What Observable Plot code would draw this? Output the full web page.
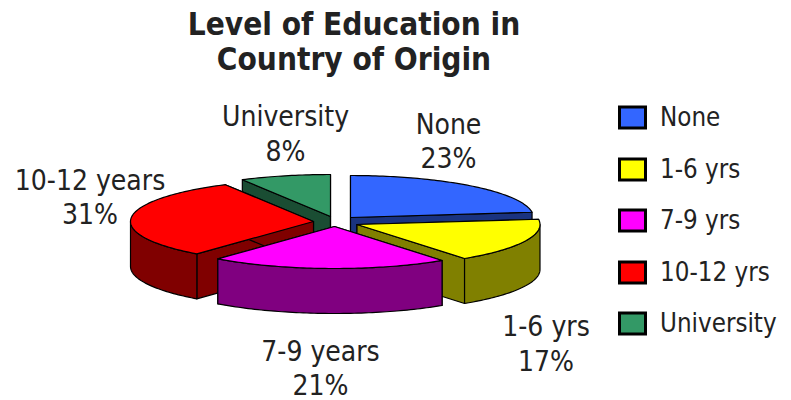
<!DOCTYPE html>
<html>
<head>
<meta charset="utf-8">
<style>html,body{margin:0;padding:0;background:#fff}svg{display:block}</style>
<script src="https://cdn.jsdelivr.net/npm/d3@7"></script>
<script src="https://cdn.jsdelivr.net/npm/@observablehq/plot@0.6"></script>
</head>
<body>
<div id="chart"></div>
<script>
const titleLines = ["Level of Education in", "Country of Origin"];
const categories = ["None", "1-6 yrs", "7-9 yrs", "10-12 yrs", "University"];
const sliceNames = ["None", "1-6 yrs", "7-9 years", "10-12 years", "University"];
const shares = [23, 17, 21, 31, 8];
const topColors = ["#3366FF", "#FFFF00", "#FF00FF", "#FF0000", "#339966"];
const wallColors = ["#1A3380", "#808000", "#800080", "#800000", "#1A4D33"];

// layout of the tilted pie
const apexX = [350, 356.5, 334, 313, 330];
const apexY = [217, 224, 226, 221, 216];
const rx = 183, ry = 42, depth = 45;
const paintOrder = [4, 0, 3, 1, 2];
const labelX = [448, 545.5, 320, 89.5, 285];
const labelY = [139.5, 342, 366.5, 195.5, 132];
const legendY = [117.5, 169.5, 220.5, 272.5, 323.5];

let cum = 0;
const slices = shares.map((s, i) => {
  const a0 = cum / 100 * 2 * Math.PI;
  cum += s;
  return {i, a0, a1: cum / 100 * 2 * Math.PI};
});
const pt = (s, a, dz = 0) => [apexX[s.i] + rx * Math.sin(a), apexY[s.i] - ry * Math.cos(a) + dz];
const arc = (s, from, to, dz = 0) => {
  const n = Math.max(2, Math.ceil(Math.abs(to - from) / 0.02));
  return d3.range(n + 1).map(k => pt(s, from + (to - from) * k / n, dz));
};
const pieces = [];
const addPiece = (id, color, pts) => {
  [...pts, pts[0]].forEach(([x, y]) => pieces.push({id, color, x, y}));
};
for (const idx of paintOrder) {
  const s = slices[idx];
  const ax = apexX[idx], ay = apexY[idx];
  const wall = wallColors[idx];
  // radial walls
  for (const [k, a] of [[0, s.a0], [1, s.a1]]) {
    const p = pt(s, a), q = pt(s, a, depth);
    addPiece(`r${idx}${k}`, wall, [[ax, ay], p, q, [ax, ay + depth]]);
  }
  // outer front wall, only where the rim faces the viewer
  const from = Math.max(s.a0, Math.PI / 2), to = Math.min(s.a1, 3 * Math.PI / 2);
  if (to > from) {
    addPiece(`o${idx}`, wall, [...arc(s, from, to), ...arc(s, to, from, depth)]);
  }
  addPiece(`t${idx}`, topColors[idx], [[ax, ay], ...arc(s, s.a0, s.a1)]);
}

const legendRows = categories.map((c, i) => ({c, y: legendY[i], color: topColors[i]}));
const labels = slices.map(s => ({
  text: `${sliceNames[s.i]}\n${shares[s.i]}%`, x: labelX[s.i], y: labelY[s.i]
}));
const titles = titleLines.map((t, i) => ({t, y: [24, 59][i]}));
const font = "'DejaVu Sans Condensed','DejaVu Sans',sans-serif";

const chart = Plot.plot({
  width: 791, height: 400, margin: 0,
  x: {type: "linear", domain: [0, 791], range: [0, 791], axis: null},
  y: {type: "linear", domain: [0, 400], range: [0, 400], axis: null},
  style: {background: "#fff", fontFamily: font},
  marks: [
    Plot.line(pieces, {x: "x", y: "y", z: "id", fill: "color", stroke: "#000", strokeWidth: 1.2, curve: "linear"}),
    Plot.text(titles, {x: () => 353.5, y: "y", text: "t", fontSize: 31.3, fontWeight: "bold", fill: "#222", textAnchor: "middle"}),
    Plot.text(labels, {x: "x", y: "y", text: "text", fontSize: 28, lineHeight: 1.23, fill: "#222", textAnchor: "middle"}),
    Plot.rect(legendRows, {x1: () => 619.5, x2: () => 645.5, y1: d => d.y - 10.5, y2: d => d.y + 10.5, fill: "color", stroke: "#000", strokeWidth: 3}),
    Plot.text(legendRows, {x: () => 659.5, y: "y", text: "c", fontSize: 25.7, fill: "#222", textAnchor: "start"})
  ]
});
document.getElementById("chart").append(chart);
</script>
</body>
</html>
